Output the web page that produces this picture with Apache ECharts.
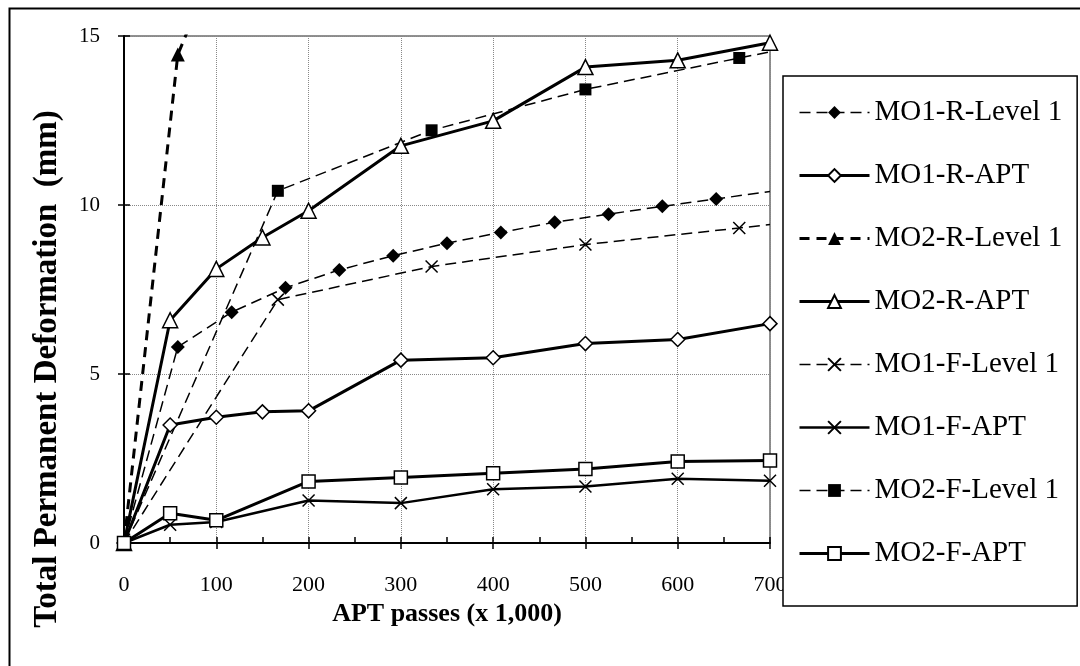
<!DOCTYPE html>
<html>
<head>
<meta charset="utf-8">
<script src="https://cdn.jsdelivr.net/npm/echarts@6/dist/echarts.min.js"></script>
<style>
  html, body { margin: 0; padding: 0; background: #fff; }
  #chart { width: 1080px; height: 666px; }
</style>
</head>
<body>
<div id="chart"></div>
<script>
// Valeurs (x en milliers de passages, y en mm)
const xTicks = [0, 100, 200, 300, 400, 500, 600, 700];
const yTicks = [0, 5, 10, 15];

// Essais APT
const xMo1RApt = [0, 50, 100, 150, 200, 300, 400, 500, 600, 700];
const yMo1RApt = [0, 3.49, 3.72, 3.88, 3.91, 5.41, 5.48, 5.90, 6.02, 6.49];
const xMo2RApt = [0, 50, 100, 150, 200, 300, 400, 500, 600, 700];
const yMo2RApt = [0, 6.59, 8.11, 9.04, 9.83, 11.75, 12.49, 14.08, 14.28, 14.80];
const xMo1FApt = [0, 50, 100, 200, 300, 400, 500, 600, 700];
const yMo1FApt = [0, 0.54, 0.62, 1.26, 1.18, 1.59, 1.67, 1.90, 1.84];
const xMo2FApt = [0, 50, 100, 200, 300, 400, 500, 600, 700];
const yMo2FApt = [0, 0.88, 0.67, 1.82, 1.94, 2.06, 2.19, 2.41, 2.44];

// Prédictions Level 1
const xMo1RLevel = [0, 58.3, 116.7, 175, 233.3, 291.7, 350, 408.3, 466.7, 525, 583.3, 641.7, 700];
const yMo1RLevel = [0, 5.80, 6.83, 7.55, 8.08, 8.50, 8.87, 9.19, 9.49, 9.73, 9.96, 10.18, 10.40];
const xMo2RLevel = [0, 58.3, 116.7];
const yMo2RLevel = [0, 14.45, 18.3];
const xMo1FLevel = [0, 166.7, 333.3, 500, 666.7, 700];
const yMo1FLevel = [0, 7.20, 8.18, 8.83, 9.32, 9.42];
const xMo2FLevel = [0, 166.7, 333.3, 500, 666.7, 700];
const yMo2FLevel = [0, 10.42, 12.21, 13.42, 14.35, 14.53];

const FONT = 'Liberation Serif';
const CROSS = 'path://M0,0L10,10M10,0L0,10';

// Le dernier point des courbes Level 1 n'a pas de marqueur
function pairs(xs, ys, hideLast)
{
    return xs.map((x, i) => {
        const item = { value: [x, ys[i]] };
        if (hideLast && i === xs.length - 1) item.symbol = 'none';
        return item;
    });
}

const legendEntries = [];

function serie(name, data, opts)
{
    // Même épaisseur de trait dans la légende que sur le graphique
    legendEntries.push({ name, lineStyle: { width: opts.width } });

    return {
        name,
        type: 'line',
        data,
        symbol: opts.symbol,
        symbolSize: opts.size,
        showAllSymbol: true,
        clip: true,
        z: opts.z || 2,
        lineStyle: { color: '#000', width: opts.width, type: opts.dash || 'solid' },
        itemStyle: {
            color: opts.fill,
            borderColor: '#000',
            borderWidth: opts.border || 0
        },
        emphasis: { disabled: true }
    };
}

const series = [
    serie('MO1-R-Level 1', pairs(xMo1RLevel, yMo1RLevel, true),
          { symbol: 'diamond', size: 14, fill: '#000', width: 1.5, dash: [11, 6] }),
    serie('MO1-R-APT', pairs(xMo1RApt, yMo1RApt),
          { symbol: 'diamond', size: 14, fill: '#fff', border: 1.5, width: 3, z: 3 }),
    serie('MO2-R-Level 1', pairs(xMo2RLevel, yMo2RLevel, true),
          { symbol: 'triangle', size: 14, fill: '#000', width: 3, dash: [10, 7] }),
    serie('MO2-R-APT', pairs(xMo2RApt, yMo2RApt),
          { symbol: 'triangle', size: 15, fill: '#fff', border: 1.5, width: 3, z: 3 }),
    serie('MO1-F-Level 1', pairs(xMo1FLevel, yMo1FLevel, true),
          { symbol: CROSS, size: 12, fill: 'none', border: 1.5, width: 1.5, dash: [11, 6] }),
    serie('MO1-F-APT', pairs(xMo1FApt, yMo1FApt),
          { symbol: CROSS, size: 12, fill: 'none', border: 1.5, width: 2.5, z: 3 }),
    serie('MO2-F-Level 1', pairs(xMo2FLevel, yMo2FLevel, true),
          { symbol: 'rect', size: 12, fill: '#000', width: 1.5, dash: [11, 6] }),
    serie('MO2-F-APT', pairs(xMo2FApt, yMo2FApt),
          { symbol: 'rect', size: 13, fill: '#fff', border: 1.5, width: 3, z: 3 })
];

const chart = echarts.init(document.getElementById('chart'));

chart.setOption({
    backgroundColor: '#fff',
    animation: false,
    textStyle: { fontFamily: FONT, color: '#000' },
    graphic: [{
        type: 'rect',
        left: 7, top: 6,
        shape: { width: 1090, height: 672 },
        style: { fill: 'none', stroke: '#000', lineWidth: 2 },
        z: 0
    }, {
        // Titre de l'axe vertical, décalé vers le bas comme dans l'original
        type: 'text',
        x: 47, y: 369,
        rotation: Math.PI / 2,
        style: {
            text: 'Total Permanent Deformation  (mm)',
            fontFamily: FONT, fontSize: 33, fontWeight: 'bold',
            fill: '#000', align: 'center', verticalAlign: 'middle'
        },
        z: 5
    }],
    grid: {
        left: 124, top: 36, width: 646, height: 507,
        show: true, borderColor: '#222', borderWidth: 1
    },
    legend: {
        orient: 'vertical',
        left: 783, top: 76,
        padding: [22, 15, 38, 15],
        itemWidth: 70, itemHeight: 16, itemGap: 34,
        backgroundColor: '#fff',
        borderColor: '#000', borderWidth: 1.5,
        z: 10,
        textStyle: { fontFamily: FONT, fontSize: 29, lineHeight: 29, color: '#000' },
        data: legendEntries
    },
    xAxis: [{
        type: 'value', min: 0, max: 700, interval: 100,
        name: 'APT passes (x 1,000)', nameLocation: 'middle', nameGap: 55,
        nameTextStyle: { fontFamily: FONT, fontSize: 26, fontWeight: 'bold', color: '#000' },
        axisLine: { onZero: false, lineStyle: { color: '#000', width: 2 } },
        axisTick: { show: true, length: 6, lineStyle: { color: '#000', width: 1.5 } },
        axisLabel: { fontFamily: FONT, fontSize: 22, color: '#000', margin: 31 },
        splitLine: { show: true, lineStyle: { color: '#888', type: 'dotted', width: 1 } }
    }, {
        type: 'value', position: 'bottom', min: 0, max: 700, interval: 50,
        axisLine: { show: false },
        axisTick: { show: true, inside: true, length: 6, lineStyle: { color: '#000', width: 1.5 } },
        axisLabel: { show: false },
        splitLine: { show: false }
    }],
    yAxis: [{
        type: 'value', min: 0, max: 15, interval: 5,
        axisLine: { show: true, lineStyle: { color: '#000', width: 2 } },
        axisTick: { show: true, length: 6, lineStyle: { color: '#000', width: 1.5 } },
        axisLabel: { fontFamily: FONT, fontSize: 21, color: '#000', margin: 24 },
        splitLine: { show: true, lineStyle: { color: '#888', type: 'dotted', width: 1 } }
    }, {
        type: 'value', position: 'left', min: 0, max: 15, interval: 5,
        axisLine: { show: false },
        axisTick: { show: true, inside: true, length: 6, lineStyle: { color: '#000', width: 1.5 } },
        axisLabel: { show: false },
        splitLine: { show: false }
    }],
    series
});
</script>
</body>
</html>
